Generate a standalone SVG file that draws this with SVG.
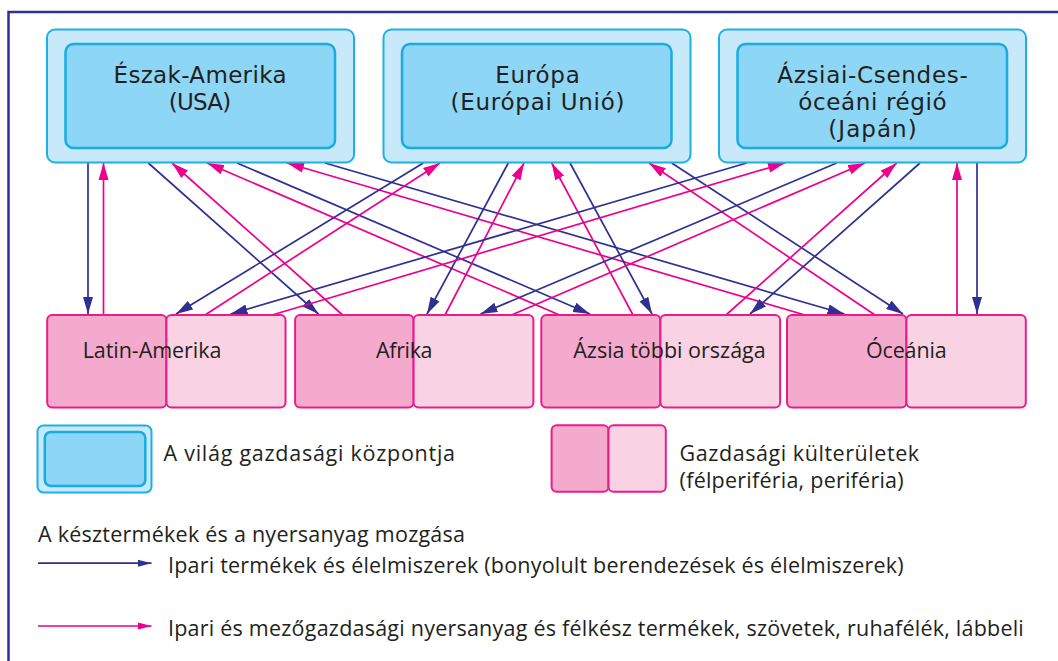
<svg xmlns="http://www.w3.org/2000/svg" width="1058" height="661" viewBox="0 0 1058 661">
<style>
text{font-family:"Open Sans","Liberation Sans",sans-serif;fill:#231f20}
.t{font-family:"DejaVu Sans","Open Sans",sans-serif;font-size:23px;text-anchor:middle}
.b{font-size:21.5px;text-anchor:middle}
.l{font-size:21.5px}
.outer{fill:#c8e9f9;stroke:#1cb0e8;stroke-width:2}
.inner{fill:#8dd6f5;stroke:#17ace4;stroke-width:2.5}
.dk{fill:#f3aacd;stroke:#ec1b8c;stroke-width:2}
.lt{fill:#f9d2e4;stroke:#ec1b8c;stroke-width:2}
.bl{stroke:#2e3192;stroke-width:1.7;fill:none;marker-end:url(#ab)}
.pk{stroke:#ec008c;stroke-width:1.7;fill:none;marker-end:url(#ap)}
.lbl{stroke:#2e3192;stroke-width:1.7;fill:none;marker-end:url(#abs)}
.lpk{stroke:#ec008c;stroke-width:1.7;fill:none;marker-end:url(#aps)}
</style>
<defs>
<marker id="ab" markerUnits="userSpaceOnUse" markerWidth="18" markerHeight="11" refX="17" refY="5.5" orient="auto"><path d="M0,0.5 L17,5.5 L0,10.5 z" fill="#2e3192"/></marker>
<marker id="ap" markerUnits="userSpaceOnUse" markerWidth="18" markerHeight="11" refX="17" refY="5.5" orient="auto"><path d="M0,0.5 L17,5.5 L0,10.5 z" fill="#ec008c"/></marker>
<marker id="abs" markerUnits="userSpaceOnUse" markerWidth="15" markerHeight="8" refX="14" refY="4" orient="auto"><path d="M0,0.3 L14,4 L0,7.7 z" fill="#2e3192"/></marker>
<marker id="aps" markerUnits="userSpaceOnUse" markerWidth="15" markerHeight="8" refX="14" refY="4" orient="auto"><path d="M0,0.3 L14,4 L0,7.7 z" fill="#ec008c"/></marker>
</defs>
<rect width="1058" height="661" fill="#ffffff"/>
<path d="M8.5,661 V12 H1058" fill="none" stroke="#2e3192" stroke-width="2.5"/>

<g id="connectors">
<line class="bl" x1="88" y1="163" x2="88" y2="314"/>
<line class="pk" x1="103.5" y1="315" x2="103.5" y2="163"/>
<line class="bl" x1="148.3" y1="163" x2="318.5" y2="314"/>
<line class="pk" x1="342.6" y1="315" x2="172" y2="163"/>
<line class="pk" x1="559.5" y1="315" x2="207" y2="163"/>
<line class="bl" x1="237" y1="163" x2="590" y2="314"/>
<line class="pk" x1="805" y1="315" x2="287" y2="163"/>
<line class="bl" x1="325" y1="163" x2="844.5" y2="314"/>
<line class="bl" x1="423.3" y1="163" x2="176" y2="314"/>
<line class="pk" x1="205" y1="315" x2="440" y2="163"/>
<line class="bl" x1="508.3" y1="163" x2="427" y2="314"/>
<line class="pk" x1="445" y1="315" x2="524" y2="163"/>
<line class="pk" x1="633" y1="315" x2="551.7" y2="163"/>
<line class="bl" x1="570" y1="163" x2="652" y2="314"/>
<line class="pk" x1="875" y1="315" x2="649" y2="163"/>
<line class="bl" x1="671.7" y1="163" x2="903" y2="314"/>
<line class="bl" x1="746.7" y1="163" x2="230.5" y2="314"/>
<line class="pk" x1="272" y1="315" x2="785" y2="163"/>
<line class="bl" x1="836.7" y1="163" x2="480.5" y2="314"/>
<line class="pk" x1="511.5" y1="315" x2="865" y2="163"/>
<line class="pk" x1="726" y1="315" x2="896.7" y2="163"/>
<line class="bl" x1="920" y1="163" x2="750" y2="314"/>
<line class="pk" x1="957" y1="315" x2="957" y2="163"/>
<line class="bl" x1="977" y1="163" x2="977" y2="314"/>
</g>

<g id="eszak-amerika">
<rect class="outer" x="47" y="29.5" width="307" height="133" rx="8"/>
<rect class="inner" x="65.5" y="44" width="269.5" height="104" rx="8"/>
<text class="t" x="200" y="83" textLength="173" lengthAdjust="spacing">Észak-Amerika</text>
<text class="t" x="200" y="110" textLength="62.5" lengthAdjust="spacing">(USA)</text>
</g>
<g id="europa">
<rect class="outer" x="383.5" y="29.5" width="307" height="133" rx="8"/>
<rect class="inner" x="402" y="44" width="269.5" height="104" rx="8"/>
<text class="t" x="537.5" y="83" textLength="84.5" lengthAdjust="spacing">Európa</text>
<text class="t" x="537.5" y="110" textLength="174" lengthAdjust="spacing">(Európai Unió)</text>
</g>
<g id="azsia-csendes">
<rect class="outer" x="719" y="29.5" width="307" height="133" rx="8"/>
<rect class="inner" x="737.5" y="44" width="269.5" height="104" rx="8"/>
<text class="t" x="872.5" y="83" textLength="190.5" lengthAdjust="spacing">Ázsiai-Csendes-</text>
<text class="t" x="872.5" y="110" textLength="148.3" lengthAdjust="spacing">óceáni régió</text>
<text class="t" x="872.5" y="137" textLength="88.3" lengthAdjust="spacing">(Japán)</text>
</g>

<g id="latin-amerika">
<rect class="dk" x="47.2" y="315" width="119.2" height="92.5" rx="5"/>
<rect class="lt" x="166.4" y="315" width="119.1" height="92.5" rx="5"/>
<text class="b" x="152" y="358" textLength="138.7" lengthAdjust="spacing">Latin-Amerika</text>
</g>
<g id="afrika">
<rect class="dk" x="295.1" y="315" width="118.5" height="92.5" rx="5"/>
<rect class="lt" x="413.6" y="315" width="119.8" height="92.5" rx="5"/>
<text class="b" x="404.3" y="358" textLength="56.5" lengthAdjust="spacing">Afrika</text>
</g>
<g id="azsia-tobbi">
<rect class="dk" x="541.3" y="315" width="119.1" height="92.5" rx="5"/>
<rect class="lt" x="660.4" y="315" width="119.7" height="92.5" rx="5"/>
<text class="b" x="669.5" y="358" textLength="192.5" lengthAdjust="spacing">Ázsia többi országa</text>
</g>
<g id="oceania">
<rect class="dk" x="787" y="315" width="119.4" height="92.5" rx="5"/>
<rect class="lt" x="906.4" y="315" width="119.4" height="92.5" rx="5"/>
<text class="b" x="906.3" y="358" textLength="80.7" lengthAdjust="spacing">Óceánia</text>
</g>

<g id="legend-kozpont">
<rect class="outer" x="37.5" y="425.5" width="114" height="67" rx="6"/>
<rect class="inner" x="44.8" y="432" width="100.5" height="54" rx="6"/>
<text class="l" x="163.5" y="461" textLength="291.5" lengthAdjust="spacing">A világ gazdasági központja</text>
</g>
<g id="legend-kulterulet">
<rect class="dk" x="551.6" y="425.2" width="56.9" height="66.5" rx="5"/>
<rect class="lt" x="608.5" y="425.2" width="57.3" height="66.5" rx="5"/>
<text class="l" x="679.6" y="461" textLength="239.5" lengthAdjust="spacing">Gazdasági külterületek</text>
<text class="l" x="679.6" y="488.2" textLength="224" lengthAdjust="spacing">(félperiféria, periféria)</text>
</g>
<g id="legend-arrows">
<text class="l" x="38" y="542" textLength="427" lengthAdjust="spacing">A késztermékek és a nyersanyag mozgása</text>
<line class="lbl" x1="38" y1="563.2" x2="151.5" y2="563.2"/>
<text class="l" x="168" y="572.5" textLength="735.7" lengthAdjust="spacing">Ipari termékek és élelmiszerek (bonyolult berendezések és élelmiszerek)</text>
<line class="lpk" x1="38" y1="626" x2="151.5" y2="626"/>
<text class="l" x="168" y="635.5" textLength="855.8" lengthAdjust="spacing">Ipari és mezőgazdasági nyersanyag és félkész termékek, szövetek, ruhafélék, lábbeli</text>
</g>
</svg>
